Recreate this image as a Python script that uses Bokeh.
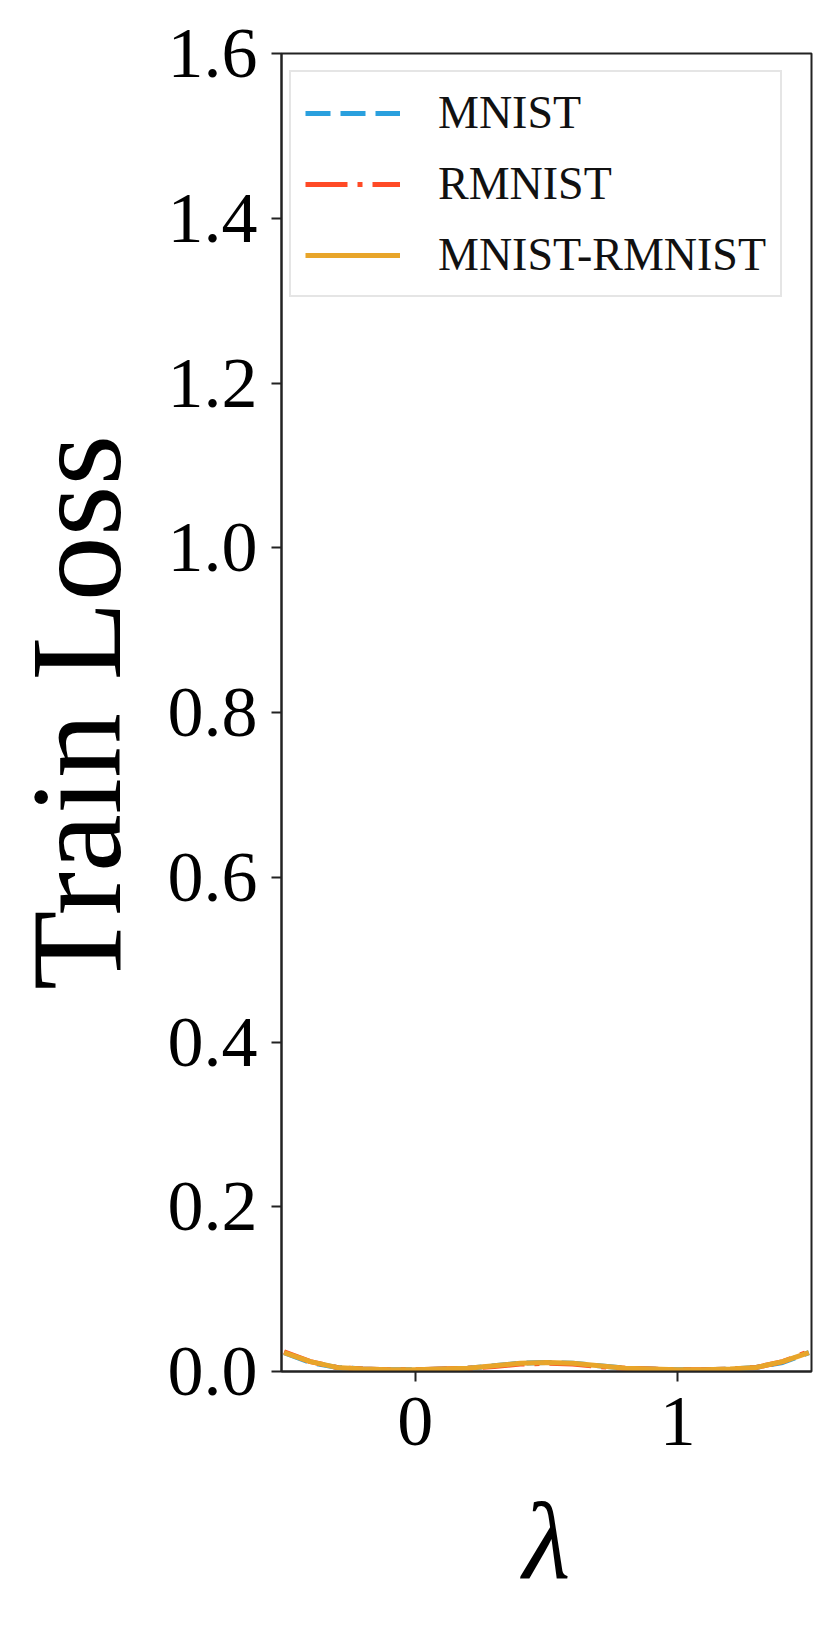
from bokeh.plotting import figure
from bokeh.models import Range1d, FixedTicker, NumeralTickFormatter, Legend, LegendItem, CustomJSTickFormatter
from bokeh.embed import file_html
from bokeh.resources import INLINE

# ---- data ----
lam = [-0.5, -0.4, -0.3, -0.2, -0.1, 0.0, 0.1, 0.2, 0.3, 0.4, 0.5,
       0.6, 0.7, 0.8, 0.9, 1.0, 1.1, 1.2, 1.3, 1.4, 1.5]
loss_mnist = [0.023, 0.011, 0.005, 0.003, 0.002, 0.002, 0.003, 0.004, 0.007, 0.010, 0.011,
              0.010, 0.007, 0.004, 0.003, 0.002, 0.002, 0.003, 0.005, 0.011, 0.023]
loss_rmnist = [0.024, 0.012, 0.005, 0.003, 0.002, 0.002, 0.003, 0.004, 0.006, 0.009, 0.010,
               0.009, 0.006, 0.004, 0.003, 0.002, 0.002, 0.003, 0.005, 0.012, 0.024]
loss_mix = [0.023, 0.012, 0.005, 0.003, 0.002, 0.002, 0.003, 0.004, 0.007, 0.010, 0.011,
            0.010, 0.007, 0.004, 0.003, 0.002, 0.002, 0.003, 0.005, 0.012, 0.023]
series_names = ["MNIST", "RMNIST", "MNIST-RMNIST"]
y_ticks = [0.0, 0.2, 0.4, 0.6, 0.8, 1.0, 1.2, 1.4, 1.6]
x_ticks = [0, 1]

FONT = "Liberation Serif"

p = figure(frame_width=530, frame_height=1318,
           min_border_left=274, min_border_top=53, min_border_right=10, min_border_bottom=240,
           x_range=Range1d(-0.51, 1.51), y_range=Range1d(0, 1.6),
           output_backend="svg", toolbar_location=None)

p.grid.visible = False
p.outline_line_color = "#222222"
p.outline_line_width = 2
p.outline_line_alpha = 1.0
p.background_fill_color = "white"
p.border_fill_color = "white"

r1 = p.line(lam, loss_mnist, line_color="#2aa0de", line_width=5, line_dash="25 10")
r2 = p.line(lam, loss_rmnist, line_color="#ff4a26", line_width=5, line_dash="42 10 5 10")
r3 = p.line(lam, loss_mix, line_color="#e8a52a", line_width=5)

for ax in (p.xaxis[0], p.yaxis[0]):
    ax.axis_line_width = 2
    ax.axis_line_color = "#222222"
    ax.major_tick_line_width = 2
    ax.major_tick_line_color = "#222222"
    ax.major_tick_out = 10
    ax.major_tick_in = 0
    ax.minor_tick_out = 0
    ax.minor_tick_in = 0
    ax.major_label_text_font = FONT
    ax.major_label_text_font_size = "72px"
    ax.major_label_text_color = "black"
    ax.axis_label_text_font = FONT
    ax.axis_label_text_color = "black"
    ax.axis_label_text_font_style = "normal"

p.yaxis[0].ticker = FixedTicker(ticks=y_ticks)
p.yaxis[0].formatter = NumeralTickFormatter(format="0.0")
p.yaxis[0].major_label_standoff = 14
p.yaxis[0].axis_label = "Train Loss"
p.yaxis[0].axis_label_text_font_size = "130px"
p.yaxis[0].axis_label_standoff = 17

p.xaxis[0].ticker = FixedTicker(ticks=x_ticks)
p.xaxis[0].formatter = CustomJSTickFormatter(code="return tick.toFixed(0);")
p.xaxis[0].major_label_standoff = 16
p.xaxis[0].axis_label = "λ"
p.xaxis[0].axis_label_text_font_size = "110px"
p.xaxis[0].axis_label_text_font_style = "italic"
p.xaxis[0].axis_label_standoff = 32

legend = Legend(items=[LegendItem(label=series_names[0], renderers=[r1]),
                       LegendItem(label=series_names[1], renderers=[r2]),
                       LegendItem(label=series_names[2], renderers=[r3])],
                location=(8, 1074))
legend.label_text_font = FONT
legend.label_text_font_size = "46px"
legend.label_text_color = "#111111"
legend.glyph_width = 95
legend.glyph_height = 20
legend.label_standoff = 38
legend.padding = 14
legend.spacing = 18
legend.margin = 0
legend.border_line_color = "#cccccc"
legend.border_line_width = 2
legend.background_fill_color = "white"
legend.background_fill_alpha = 0.8
p.add_layout(legend, "center")

open("out.html", "w").write(file_html(p, INLINE))
